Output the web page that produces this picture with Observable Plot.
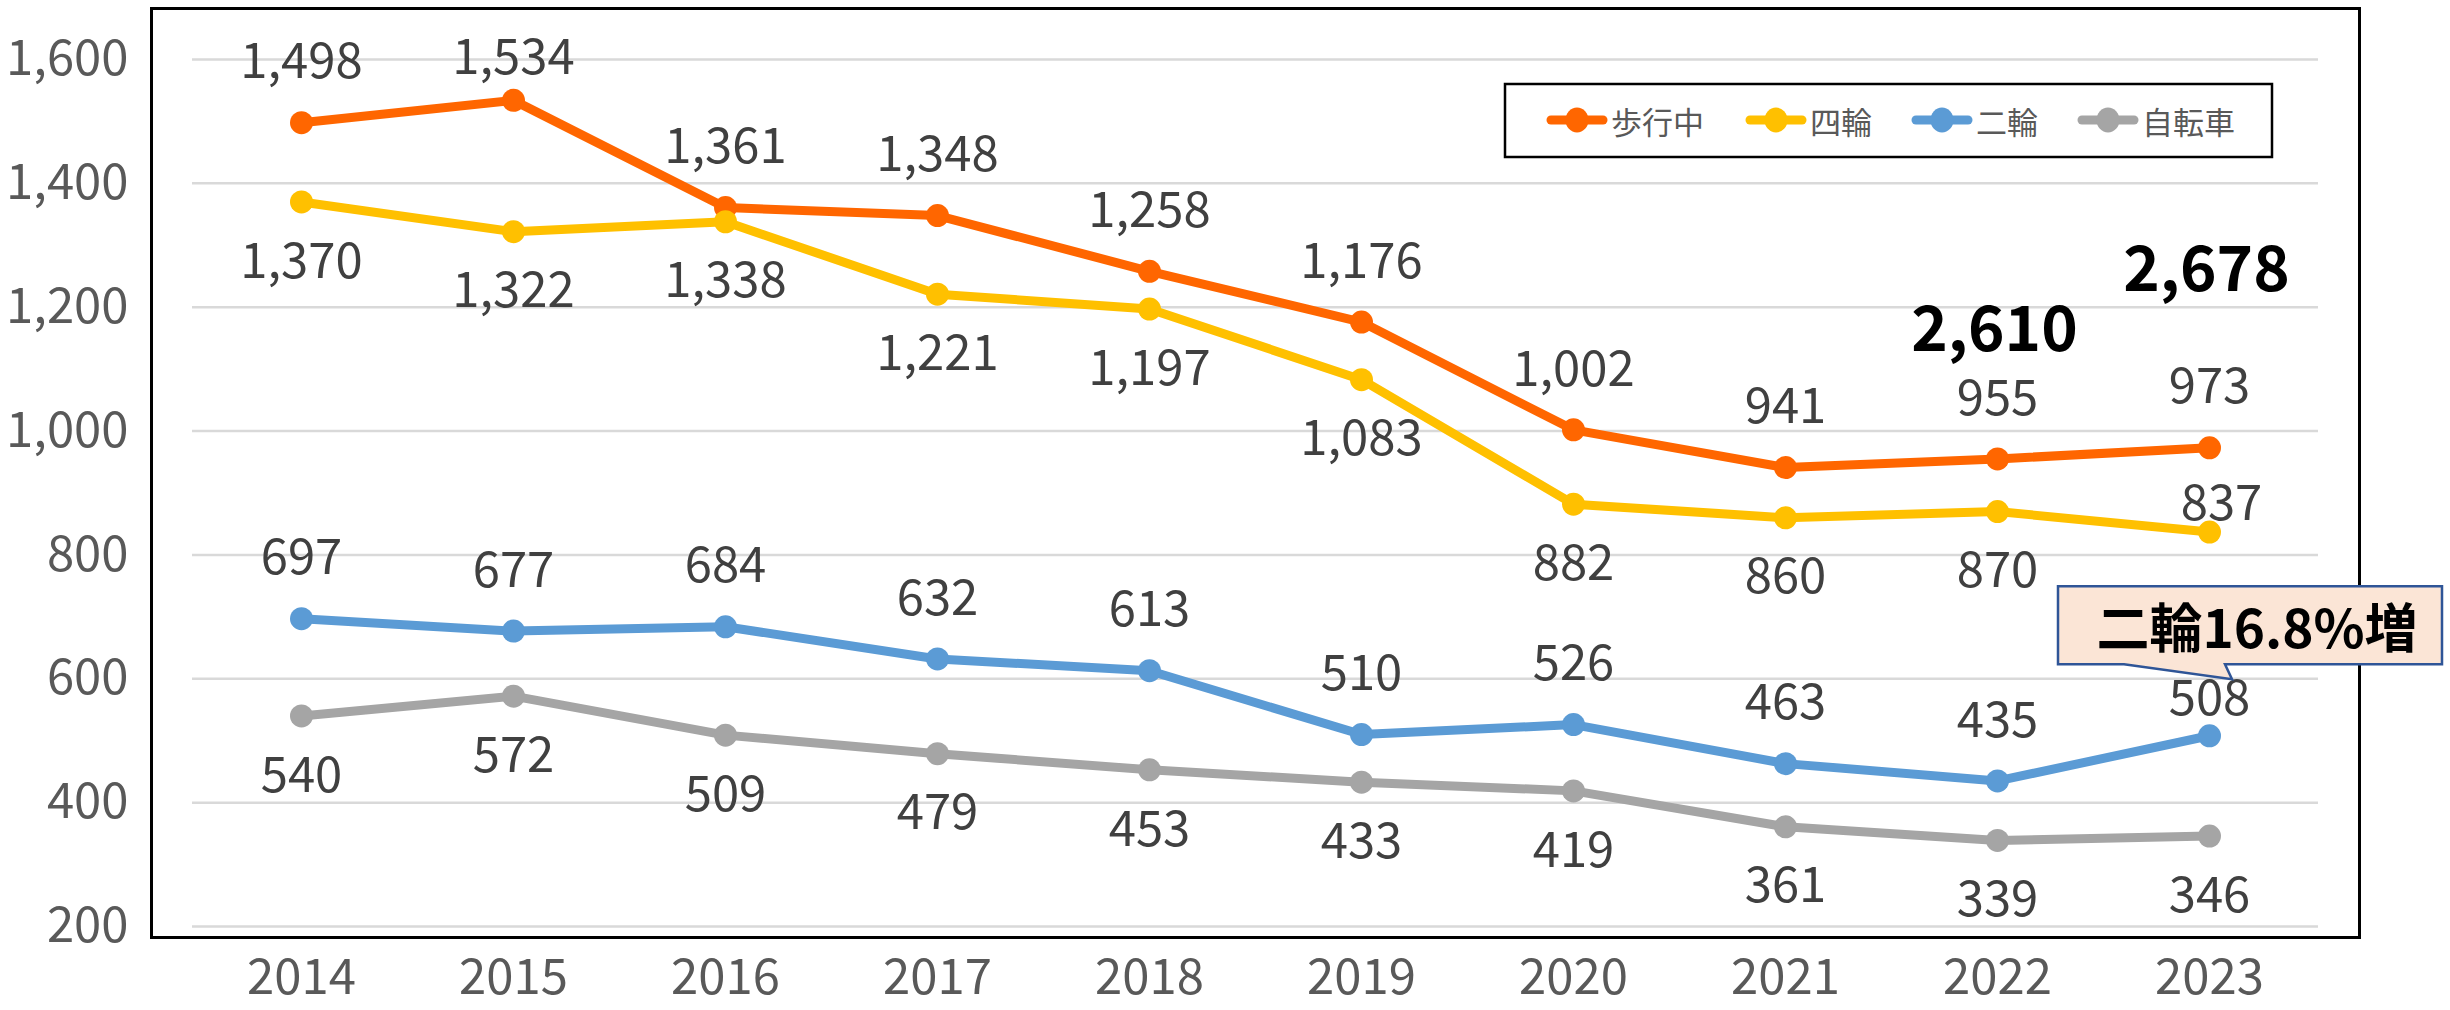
<!DOCTYPE html>
<html>
<head>
<meta charset="utf-8">
<script src="https://cdn.jsdelivr.net/npm/d3@7"></script>
<script src="https://cdn.jsdelivr.net/npm/@observablehq/plot@0.6"></script>
<style>
html, body { margin: 0; padding: 0; background: #fff; }
#chart svg { display: block; }
</style>
</head>
<body>
<div id="chart"></div>
<script>
// ---- data ----
const years = [2014, 2015, 2016, 2017, 2018, 2019, 2020, 2021, 2022, 2023];
const seriesNames = ["歩行中", "四輪", "二輪", "自転車"];
const walking   = [1498, 1534, 1361, 1348, 1258, 1176, 1002, 941, 955, 973];
const fourWheel = [1370, 1322, 1338, 1221, 1197, 1083, 882, 860, 870, 837];
const twoWheel  = [697, 677, 684, 632, 613, 510, 526, 463, 435, 508];
const bicycle   = [540, 572, 509, 479, 453, 433, 419, 361, 339, 346];
const totalYears = [2022, 2023];
const totals = [2610, 2678];
const yTicks = [200, 400, 600, 800, 1000, 1200, 1400, 1600];
const calloutText = "二輪16.8%増";
const calloutYear = 2023;

// ---- styling ----
const colors = ["#FF6600", "#FFC000", "#5B9BD5", "#A5A5A5"];
const FONT = "'Noto Sans CJK JP', 'Noto Sans', sans-serif";
const fmt = d3.format(",");

const seriesValues = [walking, fourWheel, twoWheel, bicycle];
const rows = [];
seriesNames.forEach((s, si) => {
  years.forEach((y, i) => rows.push({series: s, si, year: y, value: seriesValues[si][i]}));
});

// label placement (Excel-like: above / below, with a few hand-moved labels)
const baseDy = [-60, 60, -60, 60];
function labelOffset(d) {
  if (d.si === 0 && d.year === 2015) return [0, -42];
  if (d.si === 1 && d.year === 2023) return [12, -28];
  if (d.si === 2 && d.year === 2023) return [0, -36];
  return [0, baseDy[d.si]];
}
const groups = d3.groups(rows, d => labelOffset(d).join(","));

const marks = [
  Plot.gridY(yTicks, {stroke: "#d9d9d9", strokeOpacity: 1, strokeWidth: 2.5}),
  Plot.frame({insetLeft: -41, insetRight: -41, insetTop: -51, insetBottom: -11, stroke: "#000", strokeWidth: 3}),
  Plot.axisY(yTicks, {tickSize: 0, tickPadding: 64, fontSize: 49, fill: "#595959", tickFormat: fmt, label: null}),
  Plot.axisX(years, {tickSize: 0, tickPadding: 33, fontSize: 49, fill: "#595959", tickFormat: d => String(d), label: null})
];
seriesNames.forEach((s, si) => {
  const data = rows.filter(d => d.si === si);
  marks.push(Plot.line(data, {x: "year", y: "value", stroke: colors[si], strokeWidth: 9, strokeLinejoin: "round", strokeLinecap: "round"}));
  marks.push(Plot.dot(data, {x: "year", y: "value", fill: colors[si], r: 11.5, stroke: "none"}));
});
groups.forEach(([key, data]) => {
  const [dx, dy] = key.split(",").map(Number);
  marks.push(Plot.text(data, {x: "year", y: "value", text: d => fmt(d.value), dx, dy, fontSize: 49, fill: "#404040"}));
});
// totals (bold) above the 歩行中 line
const totalRows = totalYears.map((y, i) => ({year: y, total: totals[i], value: walking[years.indexOf(y)]}));
marks.push(Plot.text([totalRows[0]], {x: "year", y: "value", text: d => fmt(d.total), dy: -128, dx: -3, fontSize: 62, fontWeight: "bold", fill: "#000"}));
marks.push(Plot.text([totalRows[1]], {x: "year", y: "value", text: d => fmt(d.total), dy: -177, dx: -3, fontSize: 62, fontWeight: "bold", fill: "#000"}));

const plot = Plot.plot({
  width: 2450,
  height: 1010,
  marginLeft: 192,
  marginRight: 132,
  marginTop: 59,
  marginBottom: 84,
  style: {fontFamily: FONT, background: "#fff", overflow: "visible"},
  x: {type: "point", domain: years, padding: 0.5},
  y: {domain: [200, 1600]},
  marks
});
document.getElementById("chart").appendChild(plot);

// ---- callout anchored to the 二輪 2023 point ----
const svg = d3.select(plot);
const px = plot.scale("x").apply(calloutYear);
const py = plot.scale("y").apply(twoWheel[years.indexOf(calloutYear)]);
const pts = [
  [px - 151, py - 149], [px + 233, py - 149], [px + 233, py - 71],
  [px + 16, py - 71], [px + 23, py - 56], [px - 85, py - 71], [px - 151, py - 71]
];
const g = svg.append("g");
g.append("path")
  .attr("d", "M" + pts.map(p => p.join(",")).join("L") + "Z")
  .attr("fill", "#FBE5D6").attr("stroke", "#2F5597").attr("stroke-width", 2.5)
  .attr("stroke-linejoin", "miter");
g.append("text")
  .attr("x", px + 48).attr("y", py - 110)
  .attr("text-anchor", "middle").attr("dominant-baseline", "central")
  .attr("font-family", FONT).attr("font-size", 53).attr("font-weight", "bold").attr("fill", "#000")
  .text(calloutText);

// ---- legend ----
const lg = svg.append("g");
lg.append("rect").attr("x", 1505).attr("y", 84).attr("width", 767).attr("height", 73)
  .attr("fill", "#fff").attr("stroke", "#000").attr("stroke-width", 2.5);
const legendX = [1547, 1746, 1912, 2078];
seriesNames.forEach((s, i) => {
  const x0 = legendX[i], yC = 120;
  lg.append("line").attr("x1", x0 + 4).attr("x2", x0 + 56).attr("y1", yC).attr("y2", yC)
    .attr("stroke", colors[i]).attr("stroke-width", 9).attr("stroke-linecap", "round");
  lg.append("ellipse").attr("cx", x0 + 30).attr("cy", yC).attr("rx", 11.5).attr("ry", 12.5).attr("fill", colors[i]);
  lg.append("text").attr("x", x0 + 64).attr("y", yC)
    .attr("text-anchor", "start").attr("dominant-baseline", "central")
    .attr("font-family", FONT).attr("font-size", 31).attr("fill", "#595959").text(s);
});
</script>
</body>
</html>
